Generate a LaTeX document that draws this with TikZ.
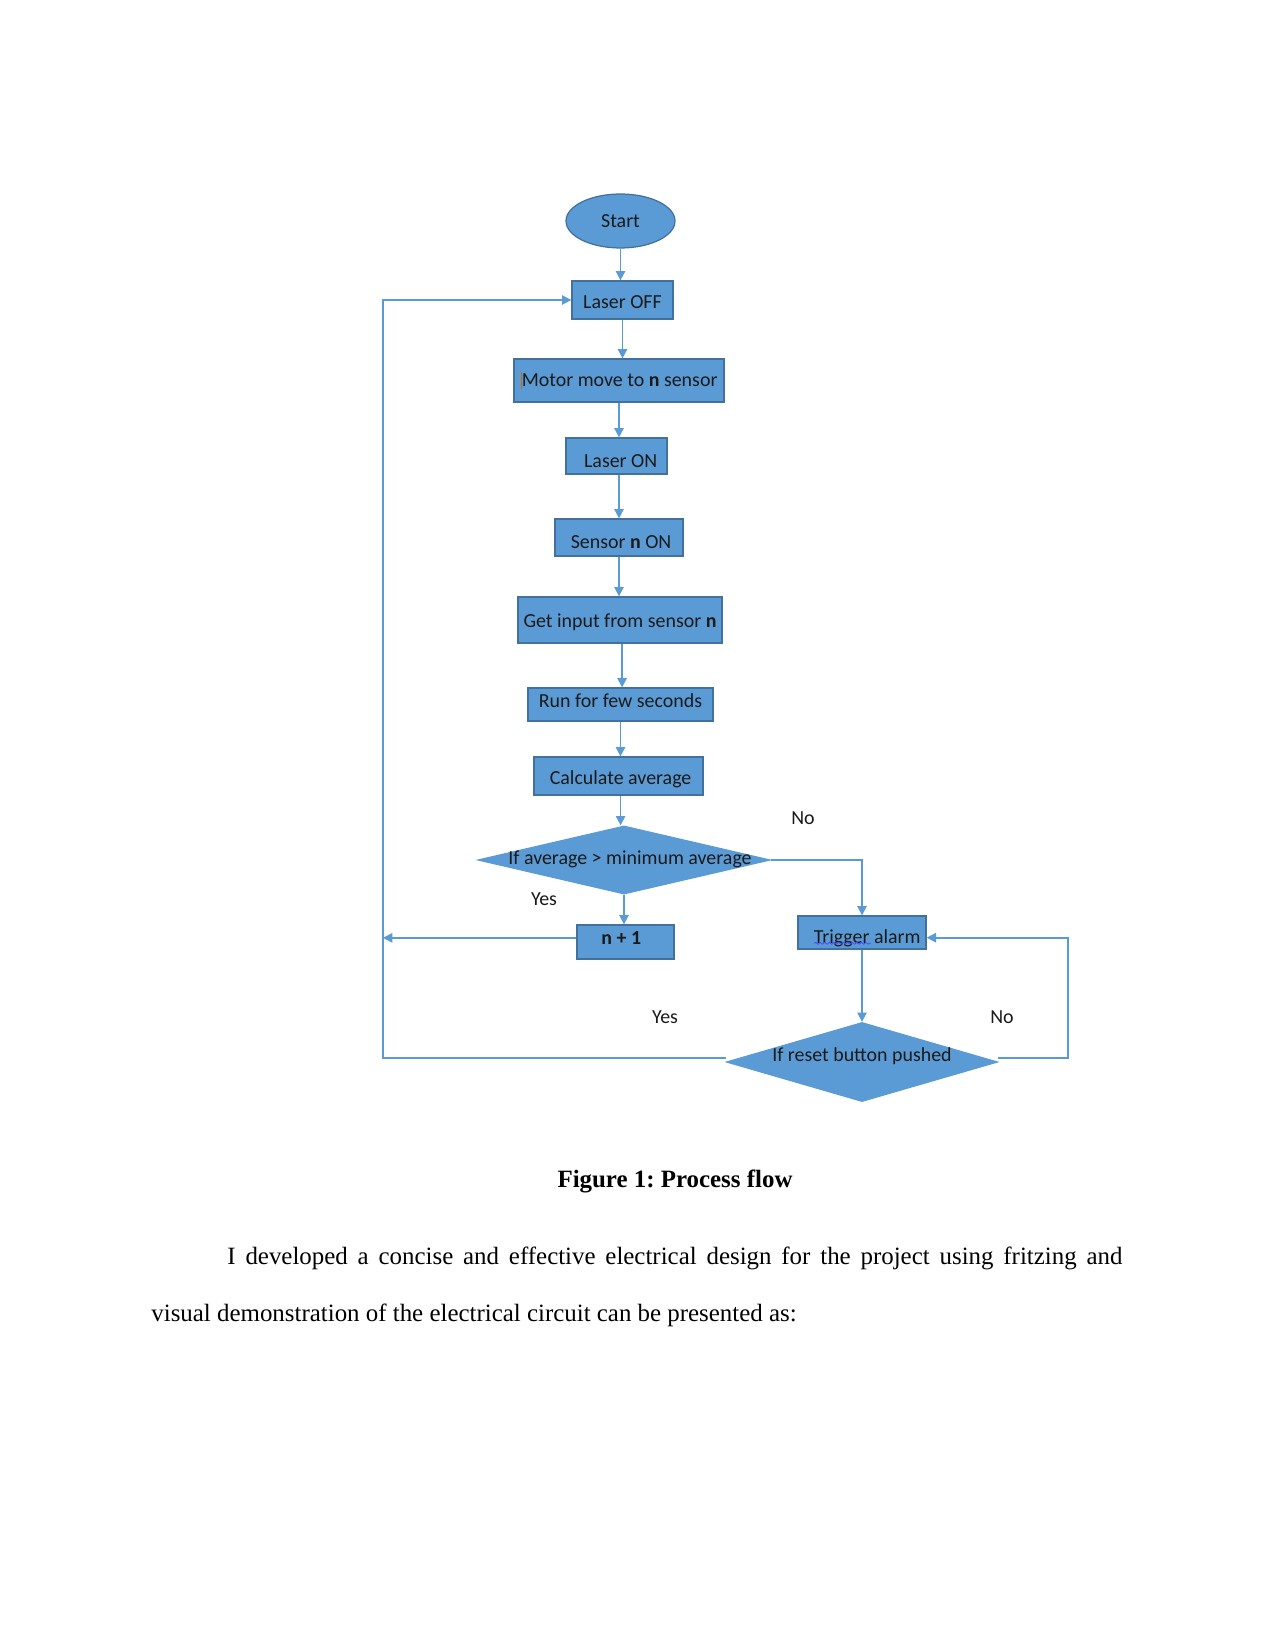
\documentclass[tikz,border=0pt]{standalone}
\usepackage{fontspec}
\setmainfont{Liberation Serif}
\newfontfamily\calfont{Carlito}
\usetikzlibrary{shapes.geometric,arrows.meta,decorations.pathmorphing}
\definecolor{boxblue}{HTML}{5B9BD5}
\definecolor{edgeblue}{HTML}{41719C}
\definecolor{lineblue}{HTML}{5B9BD5}
\definecolor{txt}{HTML}{1A1A1A}
\newcommand\shiftv[2]{\raisebox{#1}[\height][\depth]{#2}}
\frenchspacing
\begin{document}
\begin{tikzpicture}[x=0.4818pt,y=-0.4818pt,
  flowfont/.style={font=\calfont\fontsize{9.6}{11}\selectfont, text=txt},
  proc/.style={rectangle, fill=boxblue, draw=edgeblue, line width=0.6pt, inner sep=0pt, flowfont},
  startnode/.style={ellipse, fill=boxblue, draw=edgeblue, line width=0.6pt, inner sep=0pt, flowfont,
    minimum width=52.5pt, minimum height=26pt},
  dec/.style={diamond, fill=boxblue, draw=boxblue, line width=0.6pt, inner sep=0pt},
  dectext/.style={flowfont, inner sep=0pt},
  lbl/.style={flowfont, inner sep=0pt},
  arr/.style={draw=lineblue, line width=0.8pt, -{Triangle[length=4.5pt,width=4.5pt]}}]
\useasboundingbox (0,0) rectangle (1275,1651);
\fill[white] (0,0) rectangle (1275,1651);

% nodes
\node[startnode] (start) at (620.5,221) {Start};
\node[proc, minimum width=48.7pt, minimum height=18.3pt] (lo) at (622.5,300) {\shiftv{-1pt}{Laser OFF}};
\node[proc, minimum width=101.2pt, minimum height=20.7pt] (mm) at (619,380.5)
  {\textcolor{orange!80!black}{\rule[-1.5pt]{0.6pt}{8.5pt}}Motor move to \textbf{n} sensor};
\node[proc, minimum width=48.7pt, minimum height=17.3pt] (lon) at (616.5,456) {\shiftv{-2.5pt}{\hspace{4pt}Laser ON}};
\node[proc, minimum width=61.7pt, minimum height=17.8pt] (sn) at (619,537.5) {\shiftv{-2pt}{\hspace{2pt}Sensor \textbf{n} ON}};
\node[proc, minimum width=98.3pt, minimum height=22.2pt] (gi) at (620,620) {\shiftv{-1pt}{Get input from sensor \textbf{n}}};
\node[proc, minimum width=89.1pt, minimum height=15.9pt] (rf) at (620.5,704.5) {\shiftv{2pt}{Run for few seconds}};
\node[proc, minimum width=81.4pt, minimum height=18.3pt] (ca) at (618.5,776) {\shiftv{-1.5pt}{\hspace{2pt}Calculate average}};
\node[dec, minimum width=140.7pt, minimum height=32.8pt] (d1) at (624,860) {};
\node[dectext] (d1t) at (630,859) {If average > minimum average};
\node[proc, minimum width=46.7pt, minimum height=16.4pt] (n1) at (625.5,942) {\shiftv{2pt}{\textbf{n + 1}\hspace{4pt}}};
\node[proc, minimum width=61.7pt, minimum height=15.9pt] (tr) at (862,932.5) {\shiftv{-3pt}{\hspace{5pt}Trigger alarm}};
\node[dec, minimum width=130.6pt, minimum height=38.1pt] (d2) at (862,1062) {};
\node[dectext] (d2t) at (862,1056) {If reset button pushed};

% spell-check underline
\draw[draw=blue!70, line width=0.4pt, decorate, decoration={snake, amplitude=0.45pt, segment length=2.2pt}]
  ([xshift=-23pt,yshift=-5.2pt]tr.center) -- ([xshift=4.3pt,yshift=-5.2pt]tr.center);

% labels
\node[lbl] (no1) at (803,818) {No};
\node[lbl] (yes1) at (544,899) {Yes};
\node[lbl] (yes2) at (665,1017) {Yes};
\node[lbl] (no2) at (1002,1017) {No};

% loop coordinates
\coordinate (L) at (383,0);
\coordinate (R) at (1068,0);
\coordinate (tre) at ([yshift=-2.5pt]tr.east);
\coordinate (d2e) at ([yshift=2pt]d2.east);
\coordinate (d2w) at ([yshift=2pt]d2.west);
\coordinate (n1w) at ([yshift=2pt]n1.west);

% connectors
\draw[arr] (start.south) -- (start.south |- lo.north);
\draw[arr] (lo.south) -- (lo.south |- mm.north);
\draw[arr] (mm.south) -- (mm.south |- lon.north);
\draw[arr] (mm.south |- lon.south) -- (mm.south |- sn.north);
\draw[arr] (sn.south) -- (sn.south |- gi.north);
\draw[arr] ([xshift=1pt]gi.south) -- ([xshift=1pt]gi.south |- rf.north);
\draw[arr] (rf.south) -- (rf.south |- ca.north);
\draw[arr] ([xshift=1pt]ca.south) -- ([xshift=1pt]ca.south |- d1.north);
\draw[arr] (d1.south) -- (d1.south |- n1.north);
\draw[arr] (d1.east) -- (d1.east -| tr.north) -- (tr.north);
\draw[arr] (tr.south) -- (d2.north);
\draw[arr] (n1w) -- (n1w -| L);
\draw[arr] (d2w) -- (d2w -| L) -- (L |- lo.west) -- (lo.west);
\draw[arr] (d2e) -- (d2e -| R) -- (R |- tre) -- (tre);

% caption and text
\node[anchor=base, inner sep=0pt, font=\bfseries\fontsize{12}{14}\selectfont] (cap) at (675,1187) {Figure 1: Process flow};
\node[anchor=base west, inner sep=0pt, font=\fontsize{12}{14}\selectfont] (p1) at (227,1264)
  {\makebox[431.2pt][s]{I developed a concise and effective electrical design for the project using fritzing and}};
\node[anchor=base west, inner sep=0pt, font=\fontsize{12}{14}\selectfont] (p2) at (151,1321)
  {visual demonstration of the electrical circuit can be presented as:};
\end{tikzpicture}
\end{document}
